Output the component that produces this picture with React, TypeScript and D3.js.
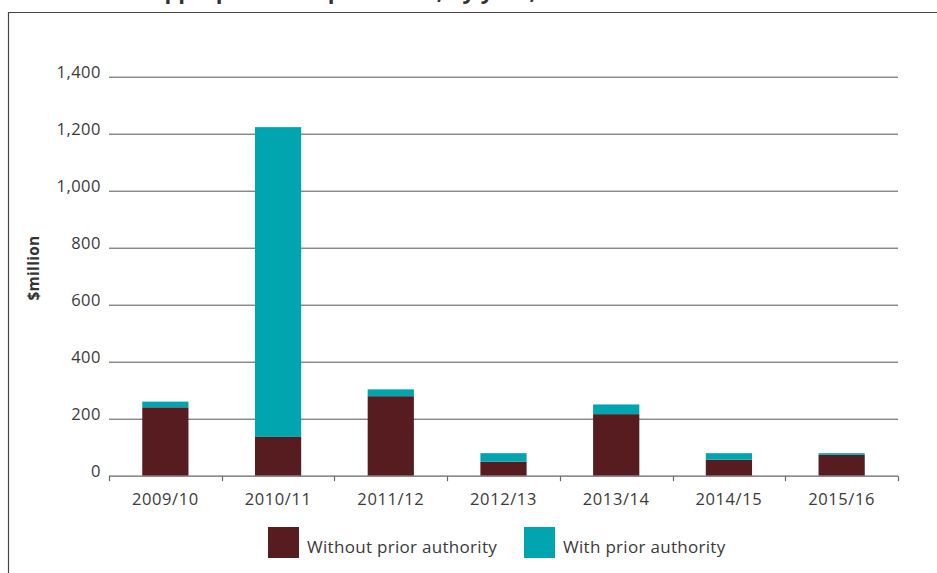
import * as d3 from "d3";
import React, { useEffect, useRef } from "react";

const years = ["2009/10", "2010/11", "2011/12", "2012/13", "2013/14", "2014/15", "2015/16"];
const withoutPrior = [240, 136, 279, 49, 216, 56, 73];
const withPrior = [20, 1087, 24, 30, 34, 23, 6];
const yTicks = [0, 200, 400, 600, 800, 1000, 1200, 1400];
const seriesNames = ["Without prior authority", "With prior authority"];
const colors = ["#561c1f", "#00a5b0"];

const FONT = "'Open Sans', sans-serif";

const App = (): JSX.Element => {
	const svgRef = useRef<SVGSVGElement>(null);

	useEffect(() => {
		const svg = d3.select(svgRef.current);
		svg.selectAll("*").remove();

		const margin = { left: 109, right: 39, top: 76.7, bottom: 97.3 };
		const W = 937, H = 573;
		const width = W - margin.left - margin.right;
		const height = H - margin.top - margin.bottom;

		// frame and cut-off title
		svg.append("path")
			.attr("d", `M8.5,${H} V12.5 H${W}`)
			.attr("fill", "none")
			.attr("stroke", "#444")
			.attr("stroke-width", 1.2);
		svg.append("text")
			.attr("x", 120)
			.attr("y", -1)
			.attr("font-family", FONT)
			.attr("font-weight", "bold")
			.attr("font-size", 22)
			.attr("fill", "#333")
			.text("Unappropriated expenditure, by year, 2009/10 to 2015/16");

		const g = svg.append("g").attr("transform", `translate(${margin.left},${margin.top})`);

		const x = d3.scaleBand().domain(years).range([0, width]).paddingInner(0.59).paddingOuter(0.295);
		const band = d3.scaleBand().domain(years).range([0, width]);
		const y = d3.scaleLinear().domain([0, 1400]).range([height, 0]);

		// gridlines
		g.append("g")
			.selectAll("line")
			.data(yTicks.filter((t) => t > 0))
			.join("line")
			.attr("x1", 0)
			.attr("x2", width)
			.attr("y1", (d) => Math.round(y(d)) + 0.5)
			.attr("y2", (d) => Math.round(y(d)) + 0.5)
			.attr("stroke", "#555")
			.attr("stroke-width", 1);

		// y axis labels
		g.append("g")
			.selectAll("text")
			.data(yTicks)
			.join("text")
			.attr("x", -8)
			.attr("y", (d) => y(d))
			.attr("dy", "0.1em")
			.attr("text-anchor", "end")
			.attr("font-family", FONT)
			.attr("font-size", 16.5)
			.attr("letter-spacing", 0.5)
			.attr("fill", "#3a3a3a")
			.text((d) => d3.format(",")(d));

		// stacked bars
		const rows = years.map((yr, i) => ({ year: yr, without: withoutPrior[i], with: withPrior[i] }));
		const stacked = d3.stack<any>().keys(["without", "with"])(rows);
		g.append("g")
			.selectAll("g")
			.data(stacked)
			.join("g")
			.attr("fill", (_, i) => colors[i])
			.selectAll("rect")
			.data((d) => d)
			.join("rect")
			.attr("x", (d) => x(d.data.year)!)
			.attr("width", x.bandwidth())
			.attr("y", (d) => y(d[1]))
			.attr("height", (d) => y(d[0]) - y(d[1]));

		// x axis
		const ax = g.append("g").attr("transform", `translate(0,${Math.round(height) + 0.5})`);
		ax.append("line").attr("x1", 0).attr("x2", width).attr("stroke", "#666").attr("stroke-width", 1.2);
		ax.selectAll("line.tick")
			.data([...years.map((d) => band(d)!), width])
			.join("line")
			.attr("class", "tick")
			.attr("x1", (d) => Math.round(d) + 0.5)
			.attr("x2", (d) => Math.round(d) + 0.5)
			.attr("y1", 0)
			.attr("y2", 5)
			.attr("stroke", "#666")
			.attr("stroke-width", 1.2);
		ax.selectAll("text")
			.data(years)
			.join("text")
			.attr("x", (d) => band(d)! + band.bandwidth() / 2)
			.attr("y", 29)
			.attr("text-anchor", "middle")
			.attr("font-family", FONT)
			.attr("font-size", 16.5)
			.attr("letter-spacing", 0.6)
			.attr("fill", "#3a3a3a")
			.text((d) => d);

		// y axis title
		svg.append("text")
			.attr("transform", "translate(39,268) rotate(-90)")
			.attr("text-anchor", "middle")
			.attr("font-family", FONT)
			.attr("font-weight", "bold")
			.attr("font-size", 15.5)
			.attr("letter-spacing", 0.3)
			.attr("fill", "#333")
			.text("$million");

		// legend
		const legendX = [268, 524];
		const leg = svg.append("g")
			.selectAll("g")
			.data(seriesNames)
			.join("g")
			.attr("transform", (_, i) => `translate(${legendX[i]},527)`);
		leg.append("rect").attr("width", 31).attr("height", 31).attr("fill", (_, i) => colors[i]);
		leg.append("text")
			.attr("x", 39)
			.attr("y", 26)
			.attr("font-family", FONT)
			.attr("font-size", 17)
			.attr("letter-spacing", 0.3)
			.attr("fill", "#3a3a3a")
			.text((d) => d);
	}, []);

	return (
		<svg
			ref={svgRef}
			width={937}
			height={573}
			style={{ position: "absolute", left: 0, top: 0, background: "#fff" }}
		/>
	);
};

export default App;
